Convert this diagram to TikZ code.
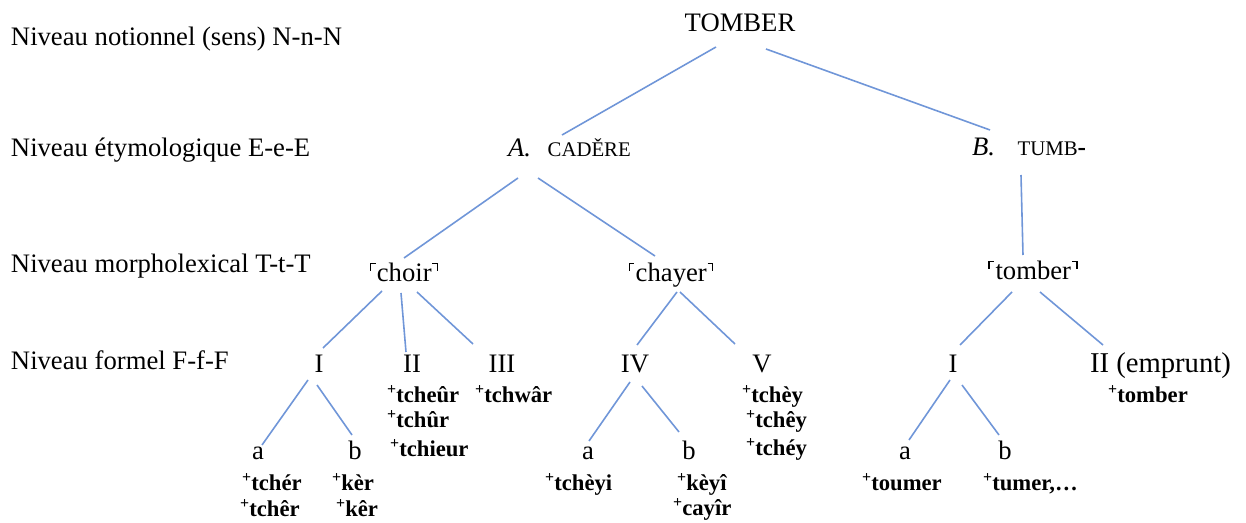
\documentclass[tikz,border=0pt]{standalone}
\usepackage{fontspec}
\setmainfont{Liberation Serif}
\usetikzlibrary{calc}
\definecolor{branch}{RGB}{112,150,216}
% quine corners drawn with rules
\newcommand\ulc{\rule[8.6pt]{1.2pt}{5.8pt}\rule[13.2pt]{3.2pt}{1.2pt}\kern1.0pt}
\newcommand\urc{\kern0.6pt\rule[13.2pt]{3.2pt}{1.2pt}\rule[8.6pt]{1.2pt}{5.8pt}}
% reconstructed form with a raised plus
\newcommand\fm[1]{\textsuperscript{+}\kern-0.3pt#1}
\begin{document}
\begin{tikzpicture}[x=0.75pt,y=-0.75pt,
  every node/.style={inner sep=0pt,outer sep=0pt},
  lvl/.style={anchor=base west,font=\fontsize{20}{24}\selectfont},
  word/.style={anchor=base,font=\fontsize{20}{24}\selectfont},
  form/.style={anchor=base west,font=\fontsize{17}{20}\selectfont\bfseries},
  link/.style={draw=branch,line width=1.2pt}]
\useasboundingbox (0,0) rectangle (1246,523);

% level labels
\node[lvl] (ln) at (11,46)  {Niveau notionnel (sens) N-n-N};
\node[lvl] (le) at (11,157) {Niveau étymologique E-e-E};
\node[lvl] (lt) at (11,273) {Niveau morpholexical T-t-T};
\node[lvl] (lf) at (11,370) {Niveau formel F-f-F};

% notional level
\node[word] (top) at (740,32) {TOMBER};

% etymological level
\node[lvl] (cadere) at (508,157) {\textit{A.}\hspace{12.5pt}{\fontsize{15.6}{18}\selectfont CADĚRE}};
\node[lvl] (tumb) at (972,156) {\textit{B.}\hspace{17pt}{\fontsize{15.6}{18}\selectfont TUMB{\fontsize{19}{20}\selectfont\bfseries -}}};

% morpholexical level
\node[word] (choir)  at (404,282)  {\ulc choir\urc};
\node[word] (chayer) at (671,282)  {\ulc chayer\urc};
\node[word] (tomb)   at (1033,280) {\ulc tomber\urc};

% formal level
\node[word] (i1)  at (319,373) {I};
\node[word] (ii1) at (412,373) {II};
\node[word] (iii) at (502,373) {III};
\node[word] (iv)  at (635,373) {IV};
\node[word] (v)   at (762,373) {V};
\node[word] (i3)  at (953,373) {I};
\node[lvl,font=\fontsize{21.5}{24}\selectfont] (ii3) at (1090,373) {II (emprunt)};

\node[word] (a1) at (258,460)  {a};
\node[word] (b1) at (355,460)  {b};
\node[word] (a2) at (588,460)  {a};
\node[word] (b2) at (689,460)  {b};
\node[word] (a3) at (905,460)  {a};
\node[word] (b3) at (1005,460) {b};

% attested forms
\node[form] (f1)  at (387,403)  {\fm{tcheûr}};
\node[form] (f2)  at (387,428)  {\fm{tchûr}};
\node[form] (f3)  at (390,457)  {\fm{tchieur}};
\node[form] (f4)  at (475,403)  {\fm{tchwâr}};
\node[form] (f5)  at (742,403)  {\fm{tchèy}};
\node[form] (f6)  at (746,428)  {\fm{tchêy}};
\node[form] (f7)  at (746,456)  {\fm{tchéy}};
\node[form] (f8)  at (1108,403) {\fm{tomber}};
\node[form] (f9)  at (242,491)  {\fm{tchér}};
\node[form] (f10) at (240,517)  {\fm{tchêr}};
\node[form] (f11) at (332,491)  {\fm{kèr}};
\node[form] (f12) at (336,517)  {\fm{kêr}};
\node[form] (f13) at (545,491)  {\fm{tchèyi}};
\node[form] (f14) at (677,491)  {\fm{kèyî}};
\node[form] (f15) at (673,516)  {\fm{cayîr}};
\node[form] (f16) at (862,491)  {\fm{toumer}};
\node[form] (f17) at (983,491)  {\fm{tumer,…}};

% branches
\draw[link] ($(top.base)+(-24,15)$) -- ($(cadere.base west)+(54,-22)$);
\draw[link] ($(top.base)+(26,17)$) -- ($(tumb.base west)+(18,-26)$);
\draw[link] ($(cadere.base west)+(10,21)$) -- ($(choir.base)+(0,-24)$);
\draw[link] ($(cadere.base west)+(30,21)$) -- ($(chayer.base)+(-16,-26)$);
\draw[link] ($(tumb.base west)+(49,19)$) -- ($(tomb.base)+(-10,-25)$);
\draw[link] ($(choir.base)+(-22,9)$) -- ($(i1.base)+(4,-25)$);
\draw[link] ($(choir.base)+(-3,11)$) -- ($(ii1.base)+(-6,-21)$);
\draw[link] ($(choir.base)+(13,10)$) -- ($(iii.base)+(-29,-29)$);
\draw[link] ($(chayer.base)+(6,10)$) -- ($(iv.base)+(2,-28)$);
\draw[link] ($(chayer.base)+(9,10)$) -- ($(v.base)+(-27,-29)$);
\draw[link] ($(tomb.base)+(-21,12)$) -- ($(i3.base)+(7,-28)$);
\draw[link] ($(tomb.base)+(7,12)$) -- ($(ii3.base west)+(13,-28)$);
\draw[link] ($(i1.base)+(-11,7)$) -- ($(a1.base)+(4,-15)$);
\draw[link] ($(i1.base)+(-2,12)$) -- ($(b1.base)+(-3,-25)$);
\draw[link] ($(iv.base)+(-5,9)$) -- ($(a2.base)+(1,-19)$);
\draw[link] ($(iv.base)+(7,13)$) -- ($(b2.base)+(-10,-28)$);
\draw[link] ($(i3.base)+(-3,7)$) -- ($(a3.base)+(4,-20)$);
\draw[link] ($(i3.base)+(9,12)$) -- ($(b3.base)+(-6,-25)$);
\end{tikzpicture}
\end{document}
